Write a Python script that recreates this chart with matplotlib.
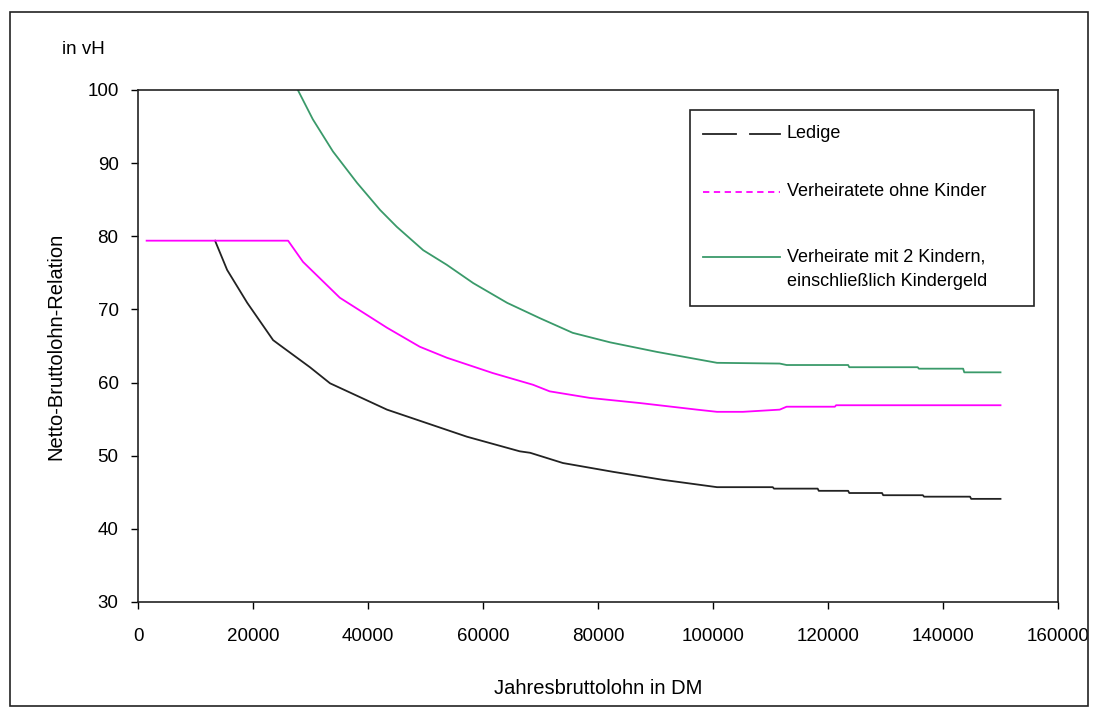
import matplotlib
matplotlib.use("Agg")
import matplotlib.pyplot as plt
from matplotlib.lines import Line2D
from matplotlib.patches import Rectangle

plt.rcParams['font.family'] = ['Liberation Sans', 'DejaVu Sans']

# Ledige
x_ledig = [13400, 15500, 19000, 23500, 24700, 29900, 33400, 43300, 57200, 66400, 68200,
           73900, 82600, 91300, 100700, 110400, 110600, 118200, 118400, 123500, 123700,
           129400, 129600, 136500, 136700, 144700, 144900, 150000]
y_ledig = [79.4, 75.4, 70.9, 65.8, 65.1, 62.1, 59.9, 56.3, 52.6, 50.6, 50.4,
           49.0, 47.8, 46.7, 45.7, 45.7, 45.5, 45.5, 45.2, 45.2, 44.9,
           44.9, 44.6, 44.6, 44.4, 44.4, 44.1, 44.1]

# Verheiratete ohne Kinder
x_ohne = [1500, 26100, 28700, 35100, 40300, 43300, 49000, 53700, 61700, 68700,
          71600, 78600, 87300, 97200, 100700, 105200, 111600, 112800, 121200, 121400, 150000]
y_ohne = [79.4, 79.4, 76.5, 71.6, 69.0, 67.5, 64.9, 63.4, 61.3, 59.7,
          58.8, 57.9, 57.2, 56.3, 56.0, 56.0, 56.3, 56.7, 56.7, 56.9, 56.9]

# Verheiratete mit 2 Kindern
x_kinder = [27800, 30400, 33900, 38100, 42100, 45000, 49600, 53700, 58300, 64200,
            69900, 75600, 82100, 90200, 100700, 111600, 112800, 123500, 123700,
            135600, 135800, 143500, 143700, 150000]
y_kinder = [100.0, 96.0, 91.6, 87.3, 83.6, 81.3, 78.1, 76.1, 73.6, 70.9,
            68.8, 66.8, 65.5, 64.2, 62.7, 62.6, 62.4, 62.4, 62.1,
            62.1, 61.9, 61.9, 61.4, 61.4]

labels = ["Ledige", "Verheiratete ohne Kinder",
          "Verheirate mit 2 Kindern,\neinschließlich Kindergeld"]

fig = plt.figure(figsize=(10.93, 7.08), dpi=100)
W, H = 1093, 708
ax = fig.add_axes([138 / W, 1 - 602 / H, 920 / W, 512 / H])

ax.plot(x_ledig, y_ledig, color='#222222', lw=1.3)
ax.plot(x_ohne, y_ohne, color='#ff00ff', lw=1.3)
ax.plot(x_kinder, y_kinder, color='#3a9a6a', lw=1.3)

ax.set_xlim(0, 160000)
ax.set_ylim(30, 100)
ax.set_xticks(range(0, 160001, 20000))
ax.set_yticks(range(30, 101, 10))
ax.tick_params(direction='out', length=5, width=1, labelsize=13.5)
ax.tick_params(axis='x', pad=14)
ax.tick_params(axis='y', pad=9)
for s in ax.spines.values():
    s.set_linewidth(1.2)
    s.set_color('#222222')

ax.set_xlabel("Jahresbruttolohn in DM", fontsize=14.5, labelpad=24)
ax.set_ylabel("Netto-Bruttolohn-Relation", fontsize=14.5, labelpad=16)
fig.text(62 / W, 1 - 50 / H, "in vH", fontsize=13.5, va='center', ha='left')

# legend box
def fx(px):
    return px / W

def fy(py):
    return 1 - py / H

fig.patches.append(Rectangle((fx(690), fy(306)), fx(1034) - fx(690), fy(110) - fy(306),
                             transform=fig.transFigure, fill=False, ec='#222222', lw=1.2))
fig.lines.append(Line2D([fx(703), fx(736)], [fy(134), fy(134)], transform=fig.transFigure,
                        color='#222222', lw=1.3))
fig.lines.append(Line2D([fx(750), fx(780)], [fy(134), fy(134)], transform=fig.transFigure,
                        color='#222222', lw=1.3))
fig.lines.append(Line2D([fx(703), fx(780)], [fy(192), fy(192)], transform=fig.transFigure,
                        color='#ff00ff', lw=1.3, linestyle=(0, (3.5, 2.5))))
fig.lines.append(Line2D([fx(703), fx(780)], [fy(257), fy(257)], transform=fig.transFigure,
                        color='#3a9a6a', lw=1.3))
fig.text(fx(787), fy(134), labels[0], fontsize=13, va='center')
fig.text(fx(787), fy(192), labels[1], fontsize=13, va='center')
fig.text(fx(787), fy(257), labels[2].split("\n")[0], fontsize=13, va='center')
fig.text(fx(787), fy(281), labels[2].split("\n")[1], fontsize=13, va='center')

# outer frame
fig.patches.append(Rectangle((fx(10), fy(706)), fx(1088) - fx(10), fy(12) - fy(706),
                             transform=fig.transFigure, fill=False, ec='#222222', lw=1.2))

fig.savefig("out.png", dpi=100)
